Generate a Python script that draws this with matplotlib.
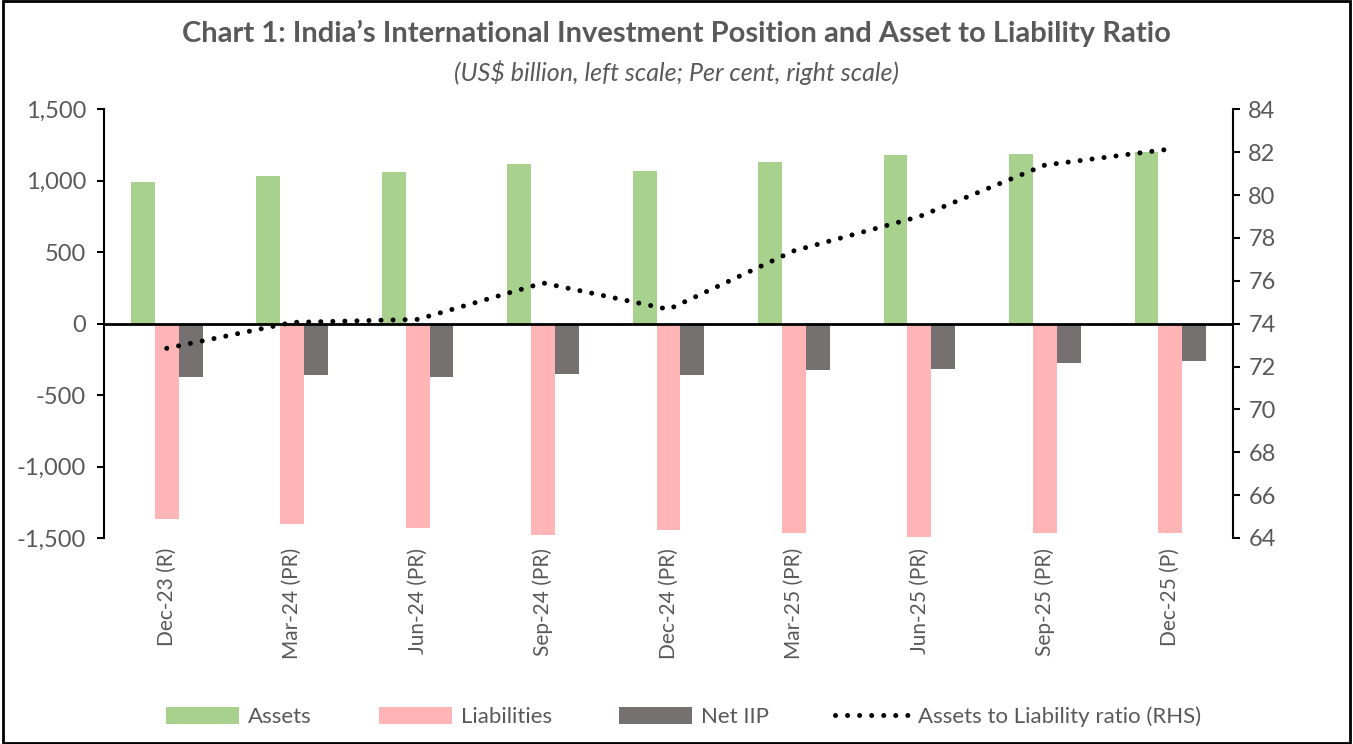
import numpy as np
import matplotlib.pyplot as plt
from matplotlib.patches import Rectangle
from matplotlib.ticker import FuncFormatter

plt.rcParams['font.family'] = ['Lato', 'DejaVu Sans']

quarters = ['Dec-23 (R)', 'Mar-24 (PR)', 'Jun-24 (PR)', 'Sep-24 (PR)', 'Dec-24 (PR)',
            'Mar-25 (PR)', 'Jun-25 (PR)', 'Sep-25 (PR)', 'Dec-25 (P)']
assets = [992, 1034, 1062, 1116, 1071, 1134, 1179, 1188, 1204]
liabilities = [-1369, -1404, -1432, -1477, -1442, -1467, -1495, -1467, -1467]
net_iip = [-375, -361, -373, -352, -361, -326, -317, -275, -263]
ratio = [72.85, 74.06, 74.2, 75.9, 74.67, 77.4, 79.0, 81.4, 82.15]

grey_txt = '#595959'
c_assets = '#A9D18E'
c_liab = '#FFB5B5'
c_net = '#767171'

fig = plt.figure(figsize=(13.53, 7.44), dpi=100)
ax = fig.add_axes([0.0769, 0.2769, 0.8344, 0.5761])

x = np.arange(len(quarters))
w = 0.19
ax.bar(x - w, assets, w, color=c_assets, label='Assets')
ax.bar(x, liabilities, w, color=c_liab, label='Liabilities')
ax.bar(x + w, net_iip, w, color=c_net, label='Net IIP')
ax.axhline(0, color='black', lw=2, zorder=3)

ax.set_xlim(-0.5, len(quarters) - 0.5)
ax.set_ylim(-1500, 1500)
ax.set_yticks(range(-1500, 1501, 500))
ax.yaxis.set_major_formatter(FuncFormatter(lambda v, p: '{:,.0f}'.format(v)))
ax.set_xticks(x)
ax.set_xticklabels(quarters, rotation=90, fontsize=15, color=grey_txt)
ax.tick_params(axis='x', length=0, pad=7)
ax.tick_params(axis='y', labelsize=17, labelcolor=grey_txt, direction='out', length=5, width=1.5, pad=8)
for s in ['top', 'bottom', 'right']:
    ax.spines[s].set_visible(False)
ax.spines['left'].set_linewidth(1.5)

ax2 = ax.twinx()
ax2.plot(x, ratio, color='black', lw=3.6, linestyle=(0, (0.01, 2.4)),
         dash_capstyle='round', solid_capstyle='round', label='Assets to Liability ratio (RHS)', zorder=4)
ax2.set_ylim(64, 84)
ax2.set_yticks(range(64, 85, 2))
ax2.tick_params(axis='y', labelsize=17, labelcolor=grey_txt, direction='out', length=5, width=1.5, pad=6)
for s in ['top', 'bottom', 'left']:
    ax2.spines[s].set_visible(False)
ax2.spines['right'].set_linewidth(1.5)

fig.text(0.5, 0.955, 'Chart 1: India\u2019s International Investment Position and Asset to Liability Ratio',
         ha='center', va='center', fontsize=21, fontweight='bold', color=grey_txt)
fig.text(0.5, 0.903, '(US$ billion, left scale; Per cent, right scale)',
         ha='center', va='center', fontsize=18, style='italic', color=grey_txt)

h1, l1 = ax.get_legend_handles_labels()
h2, l2 = ax2.get_legend_handles_labels()
leg = fig.legend(h1 + h2, l1 + l2, loc='center', bbox_to_anchor=(0.505, 0.037), ncol=4,
                 frameon=False, fontsize=16, handlelength=3.3, handleheight=0.8,
                 columnspacing=3.0, handletextpad=0.4)
for t in leg.get_texts():
    t.set_color(grey_txt)

fig.patches.append(Rectangle((0.002, 0.002), 0.996, 0.996, transform=fig.transFigure,
                             fill=False, edgecolor='black', lw=2))

fig.savefig('out.png', dpi=100)
